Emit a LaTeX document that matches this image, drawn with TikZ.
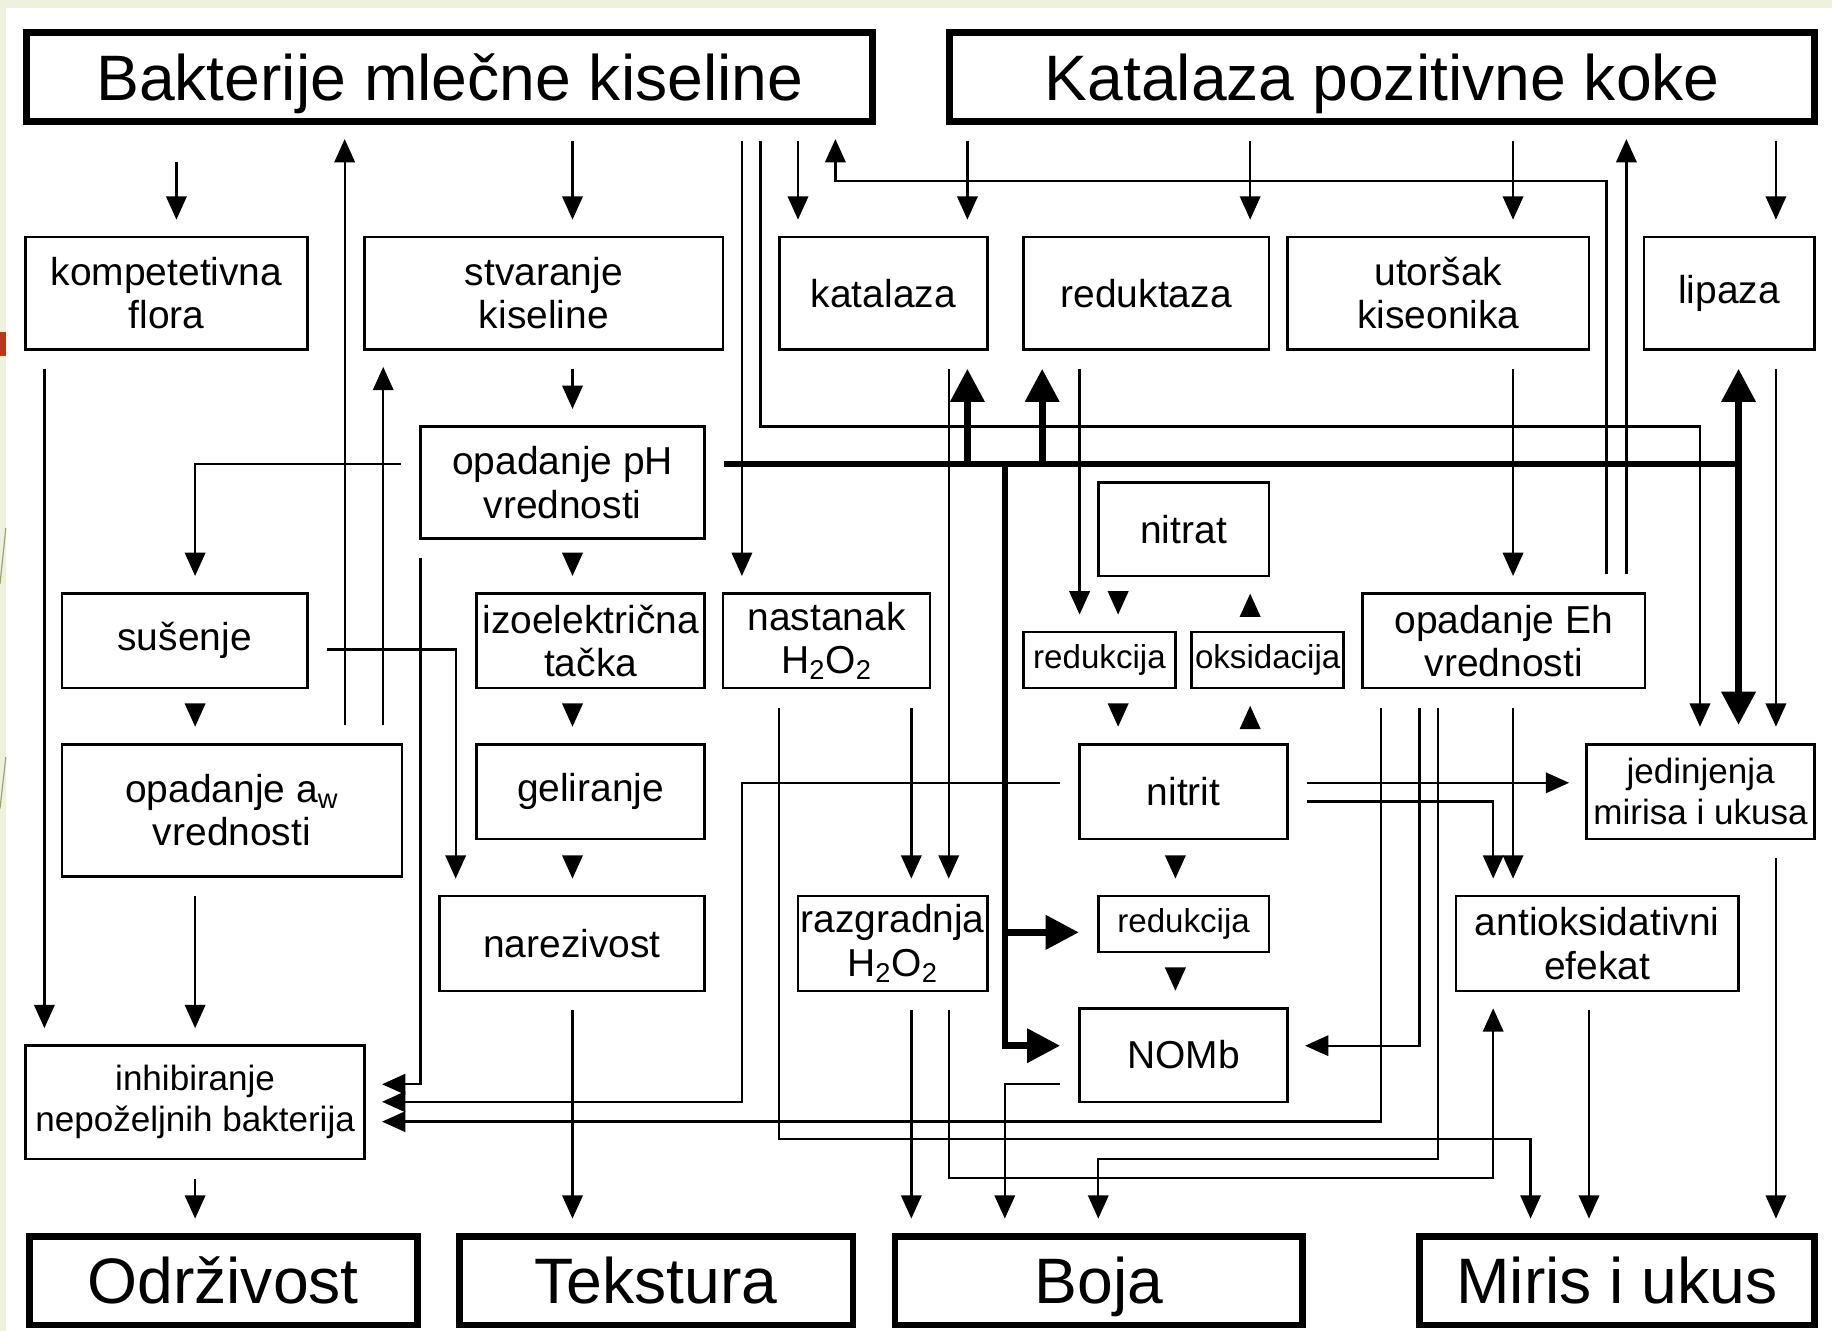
\documentclass[tikz,border=0pt]{standalone}
\usepackage{fontspec}
\setmainfont{Liberation Sans}
\usepackage{xcolor}
\usepackage{tikz}
\usetikzlibrary{arrows.meta}
\definecolor{slidegreen}{HTML}{EDF1DE}
\definecolor{slidered}{HTML}{B33A1C}
\definecolor{slideline}{HTML}{A39E78}

\tikzset{
  box/.style={draw, line width=1.3pt, fill=white, inner sep=0pt, outer sep=0pt, align=center,
              font=\fontsize{20}{22.2}\selectfont},
  smallbox/.style={box, font=\fontsize{17}{19}\selectfont},
  midbox/.style={box, font=\fontsize{18}{21}\selectfont},
  bigbox/.style={draw, line width=3.5pt, fill=white, inner sep=0pt, outer sep=0pt,
                 text height=23.6pt, text depth=0pt, font=\fontsize{33}{36}\selectfont},
  sz/.style 2 args={minimum width=#1*0.6pt, minimum height=#2*0.6pt},
  arr/.style={line width=1.2pt, -{Triangle[length=12pt,width=10.5pt]}},
  gap/.style={shorten <=10pt, shorten >=9pt},
  thk/.style={line width=3.4pt},
  tarr/.style={thk, -{Triangle[length=17pt,width=17pt]}},
}

\begin{document}
\begin{tikzpicture}[x=0.6pt, y=-0.6pt]
  \useasboundingbox (0,0) rectangle (1568,1139);
  \fill[slidegreen] (0,0) rectangle (1568,1139);
  \fill[white] (5,7) rectangle (1568,1139);
  \fill[slidered] (0,284) rectangle (5,305);
  \draw[slideline, line width=0.6pt] (0,500) -- (5,452);
  \draw[slideline, line width=0.6pt] (0,692) -- (5,648);

  % main groups
  \node[bigbox, sz={724}{76}] (bmk) at (385,66) {Bakterije mlečne kiseline};
  \node[bigbox, sz={740}{76}] (kpk) at (1183,66) {Katalaza pozitivne koke};

  % second row
  \node[box, sz={241}{96}] (kf) at (142.5,251) {kompetetivna\\flora};
  \node[box, sz={307}{96}] (sk) at (465.5,251) {stvaranje\\kiseline};
  \node[box, sz={178}{96}] (kat) at (756,251) {katalaza};
  \node[box, sz={210}{96}] (red) at (981,251) {reduktaza};
  \node[box, sz={258}{96}] (uk) at (1231,251) {utoršak\\kiseonika};
  \node[box, sz={146}{96}] (lip) at (1480,251) {lipaza};

  \node[box, sz={243}{96}] (ph) at (481.5,413) {opadanje pH\\vrednosti};
  \node[box, sz={146}{80}] (nitrat) at (1013,453) {nitrat};

  \node[box, sz={210}{81}] (sus) at (158,548.5) {sušenje};
  \node[box, sz={195}{81}] (izo) at (505.5,548.5) {izoelektrična\\tačka};
  \node[box, sz={177}{81}] (nas) at (707.5,548.5) {nastanak\\H\textsubscript{2}O\textsubscript{2}};
  \node[smallbox, sz={130}{48}] (redA) at (941,565) {redukcija};
  \node[smallbox, sz={130}{48}] (oks) at (1085,565) {oksidacija};
  \node[box, sz={242}{81}] (eh) at (1287,548.5) {opadanje Eh\\vrednosti};

  \node[box, sz={291}{113}] (aw) at (198.5,693.5) {opadanje a\textsubscript{w}\\vrednosti};
  \node[box, sz={195}{81}] (gel) at (505.5,677.5) {geliranje};
  \node[box, sz={178}{81}] (nitrit) at (1013,677.5) {nitrit};
  \node[midbox, sz={195}{81}] (jed) at (1455.5,677.5) {jedinjenja\\mirisa i ukusa};

  \node[box, sz={227}{81}] (nar) at (489.5,807.5) {narezivost};
  \node[box, sz={162}{81}] (raz) at (764,807.5) {razgradnja\\H\textsubscript{2}O\textsubscript{2}};
  \node[smallbox, sz={146}{48}] (redB) at (1013,791) {redukcija};
  \node[box, sz={242}{81}] (aox) at (1367,807.5) {antioksidativni\\efekat};

  \node[box, sz={178}{80}] (nomb) at (1013,903) {NOMb};
  \node[midbox, sz={290}{97}] (inh) at (167,943.5) {inhibiranje\\nepoželjnih bakterija};

  % outcomes
  \node[bigbox, sz={332}{76}] (odr) at (191,1096) {Održivost};
  \node[bigbox, sz={337}{76}] (tek) at (561.5,1096) {Tekstura};
  \node[bigbox, sz={349}{76}] (boja) at (940.5,1096) {Boja};
  \node[bigbox, sz={338}{76}] (mir) at (1384,1096) {Miris i ukus};

  % rails
  \foreach \cx in {38,151,167,295,328,390,490,635,651,667,683,715,780,812,828,860,892,924,
                   940,957,1006,1070,1182,1215,1231,1278,1295,1310,1360,1375,1392,1455,1488,1520}
    \coordinate (c\cx) at (\cx,0);
  \foreach \ry in {155,365,397,556,670,686,798,895,928,943,960,975,992,1008}
    \coordinate (r\ry) at (0,\ry);

  % Bakterije mlecne kiseline
  \draw[arr, gap, shorten <=21pt] (bmk.south -| c151) -- (kf.north -| c151);
  \draw[arr, gap] (bmk.south -| c490) -- (sk.north -| c490);
  \draw[arr, gap] (bmk.south -| c683) -- (kat.north -| c683);
  \draw[arr, gap] (bmk.south -| c635) -- (nas.north -| c635);
  \draw[arr, gap] (bmk.south -| c651) |- (c1455 |- r365) -- (jed.north -| c1455);
  \draw[arr, gap] (aw.north -| c295) -- (bmk.south -| c295);
  \draw[arr, gap] (aw.north -| c328) -- (sk.south -| c328);
  \draw[arr, gap] (eh.north -| c1375) |- (c715 |- r155) -- (bmk.south -| c715);
  \draw[arr, gap] (eh.north -| c1392) -- (kpk.south -| c1392);

  % Katalaza pozitivne koke
  \foreach \a/\b in {828/kat, 1070/red, 1295/uk, 1520/lip}
    \draw[arr, gap] (kpk.south -| c\a) -- (\b.north -| c\a);

  % second row down
  \draw[arr, gap] (kf.south -| c38) -- (inh.north -| c38);
  \draw[arr, gap] (sk.south -| c490) -- (ph.north -| c490);
  \draw[arr, gap] (kat.south -| c812) -- (raz.north -| c812);
  \draw[arr, gap] (red.south -| c924) -- (redA.north -| c924);
  \draw[arr, gap] (uk.south -| c1295) -- (eh.north -| c1295);
  \draw[arr, gap] (lip.south -| c1520) -- (jed.north -| c1520);

  % pH, thick
  \draw[thk, shorten <=10pt] (ph.east |- r397) -- (c1488 |- r397);
  \foreach \a/\b in {828/kat, 892/red, 1488/lip}
    \draw[tarr, shorten >=10pt] (c\a |- r397) -- (\b.south -| c\a);
  \draw[tarr, shorten >=10pt] (c1488 |- r397) -- (jed.north -| c1488);
  \draw[tarr, shorten >=10pt] (c860 |- r397) |- (nomb.west |- r895);
  \draw[tarr, shorten >=10pt] (c860 |- r798) -- (redB.west |- r798);

  % pH, thin
  \draw[arr, gap] (ph.west |- r397) -| (sus.north -| c167);
  \draw[arr, gap] (ph.south -| c490) -- (izo.north -| c490);
  \draw[arr, gap] (ph.south west) |- (inh.east |- r928);

  % susenje, aw
  \draw[arr, gap] (sus.east |- r556) -| (nar.north -| c390);
  \draw[arr, gap] (sus.south -| c167) -- (aw.north -| c167);
  \draw[arr, gap] (aw.south -| c167) -- (inh.north -| c167);
  \draw[arr, gap] (inh.south -| c167) -- (odr.north -| c167);

  % tekstura
  \draw[arr, gap] (izo.south -| c490) -- (gel.north -| c490);
  \draw[arr, gap] (gel.south -| c490) -- (nar.north -| c490);
  \draw[arr, gap] (nar.south -| c490) -- (tek.north -| c490);

  % H2O2
  \draw[arr, gap] (nas.south -| c780) -- (raz.north -| c780);
  \draw[arr, gap] (nas.south -| c667) |- (c1310 |- r975) -- (mir.north -| c1310);
  \draw[arr, gap] (raz.south -| c780) -- (boja.north -| c780);
  \draw[arr, gap] (raz.south -| c812) |- (c1278 |- r1008) -- (aox.south -| c1278);

  % nitrat / nitrit
  \draw[arr, gap] (nitrat.south -| c957) -- (redA.north -| c957);
  \draw[arr, gap] (oks.north -| c1070) -- (nitrat.south -| c1070);
  \draw[arr, gap] (redA.south -| c957) -- (nitrit.north -| c957);
  \draw[arr, gap] (nitrit.north -| c1070) -- (oks.south -| c1070);
  \draw[arr, gap] (nitrit.south -| c1006) -- (redB.north -| c1006);
  \draw[arr, gap] (redB.south -| c1006) -- (nomb.north -| c1006);
  \draw[arr, gap] (nitrit.west |- r670) -| (c635 |- r943) -- (inh.east |- r943);
  \draw[arr, gap] (nitrit.east |- r670) -- (jed.west |- r670);
  \draw[arr, gap] (nitrit.east |- r686) -| (aox.north -| c1278);
  \draw[arr, gap] (nomb.west |- r928) -| (boja.north -| c860);

  % Eh
  \draw[arr, gap] (eh.south -| c1182) |- (inh.east |- r960);
  \draw[arr, gap] (eh.south -| c1215) |- (nomb.east |- r895);
  \draw[arr, gap] (eh.south -| c1231) |- (c940 |- r992) -- (boja.north -| c940);
  \draw[arr, gap] (eh.south -| c1295) -- (aox.north -| c1295);

  % miris i ukus
  \draw[arr, gap] (aox.south -| c1360) -- (mir.north -| c1360);
  \draw[arr, gap] (jed.south -| c1520) -- (mir.north -| c1520);
\end{tikzpicture}
\end{document}
